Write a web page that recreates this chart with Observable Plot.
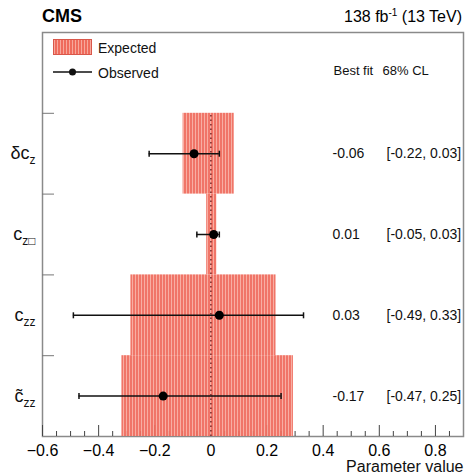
<!DOCTYPE html>
<html>
<head>
<meta charset="utf-8">
<script src="https://cdn.jsdelivr.net/npm/d3@7"></script>
<script src="https://cdn.jsdelivr.net/npm/@observablehq/plot@0.6"></script>
<style>
  html, body { margin: 0; padding: 0; background: #fff; }
  #wrap { position: relative; width: 465px; height: 475px; font-family: "Liberation Sans", Arial, Helvetica, sans-serif; }
  .hdr { position: absolute; white-space: nowrap; line-height: 1; color: #000; }
  .leg { position: absolute; white-space: nowrap; line-height: 1; font-size: 14px; color: #111; }
</style>
</head>
<body>
<div id="wrap">
  <div class="hdr" style="left:42px; top:7px; font-size:18px; font-weight:bold;">CMS</div>
  <div class="hdr" style="right:3px; top:8px; font-size:16px;">138 fb<sup style="font-size:10px; vertical-align: 6px;">-1</sup> (13 TeV)</div>
  <div class="leg" style="left:53px; top:39px; width:39px; height:16px; box-sizing:border-box; border:1px solid #d9574a; background: repeating-linear-gradient(90deg, #f7a89c 0 1px, #ef6b5c 1px 3px);"></div>
  <div class="leg" style="left:98px; top:41px;">Expected</div>
  <svg class="leg" style="left:53px; top:66px;" width="40" height="12"><line x1="0" y1="6" x2="39" y2="6" stroke="#111" stroke-width="1.5"/><circle cx="19.5" cy="6" r="3.5" fill="#111"/></svg>
  <div class="leg" style="left:98px; top:66px;">Observed</div>
</div>
<script>
// ---- data ----
const rows      = ["δc_z", "c_z□", "c_zz", "c̃_zz"];
const labelMain = ["δc", "c", "c", "c̃"];
const labelSub  = ["z", "z□", "zz", "zz"];
const bestFit   = [-0.06, 0.01, 0.03, -0.17];
const ciLow     = [-0.22, -0.05, -0.49, -0.47];
const ciHigh    = [0.03, 0.03, 0.33, 0.25];
const expLow    = [-0.099, -0.015, -0.285, -0.317];
const expHigh   = [0.083, 0.021, 0.232, 0.294];
const xTicks    = [-0.6, -0.4, -0.2, 0, 0.2, 0.4, 0.6, 0.8];
const columnHeads = ["Best fit", "68% CL"];
const xLabel    = "Parameter value";

const fmt2 = d3.formatLocale({decimal: ".", thousands: ",", grouping: [3], currency: ["", ""], minus: "-"}).format(".2f");
const n = rows.length;
const table = rows.map((r, i) => ({
  row: r,
  top: n - i,
  bottom: n - i - 1,
  center: n - i - 0.5,
  best: bestFit[i],
  lo: ciLow[i],
  hi: ciHigh[i],
  eLo: expLow[i],
  eHi: expHigh[i],
  bestText: fmt2(bestFit[i]),
  ciText: `[${fmt2(ciLow[i])}, ${fmt2(ciHigh[i])}]`
}));
const headerRow = n + 0.5;
const minorTicks = d3.range(-11, 18).map(k => k * 0.05).filter(v => !xTicks.some(t => Math.abs(t - v) < 1e-9));

const capSymbol = {
  draw(context, size) {
    const h = Math.sqrt(size / Math.PI);
    context.moveTo(0, -h);
    context.lineTo(0, h);
  }
};
const tickFmt = d => d === 0 ? "0" : d3.format(".1f")(d);

const chart = Plot.plot({
  width: 465,
  height: 475,
  marginTop: 32,
  marginLeft: 42,
  marginRight: 2,
  marginBottom: 39,
  style: {fontFamily: '"Liberation Sans", Arial, Helvetica, sans-serif', background: "transparent", color: "#000"},
  x: {domain: [-0.6, 0.9], label: null},
  y: {domain: [0, n + 1], label: null},
  marks: [
    Plot.frame({stroke: "#8a8a8a", strokeWidth: 1.5}),
    Plot.axisX(minorTicks, {tickSize: 5, dy: -5, tickFormat: () => "", stroke: "#444", label: null}),
    Plot.axisX(xTicks, {tickSize: 11, dy: -11, tickFormat: () => "", stroke: "#444", label: null}),
    Plot.axisX(xTicks, {tickSize: 0, tickPadding: 8, fontSize: 16, tickFormat: tickFmt, label: null}),
    Plot.axisY(d3.range(1, n + 1), {tickSize: 12, dx: 12, tickFormat: () => "", stroke: "#777", label: null}),
    Plot.rect(table, {x1: "eLo", x2: "eHi", y1: "bottom", y2: "top", fill: "url(#hatch)", fillOpacity: 0.93}),
    Plot.ruleX([0], {y1: 0, y2: n, stroke: "#7a2a2a", strokeWidth: 1.5, strokeDasharray: "1.5,3"}),
    Plot.ruleY(table, {y: "center", x1: "lo", x2: "hi", stroke: "#111", strokeWidth: 1.5}),
    Plot.dot(table, {x: "lo", y: "center", r: 3, symbol: capSymbol, stroke: "#111", strokeWidth: 1.5}),
    Plot.dot(table, {x: "hi", y: "center", r: 3, symbol: capSymbol, stroke: "#111", strokeWidth: 1.5}),
    Plot.dot(table, {x: "best", y: "center", r: 4.5, fill: "#000", stroke: null}),
    Plot.text(table, {y: "center", text: "bestText", frameAnchor: "right", dx: -131, textAnchor: "start", fontSize: 14, fill: "#111"}),
    Plot.text(table, {y: "center", text: "ciText", frameAnchor: "right", dx: -77, textAnchor: "start", fontSize: 14, fill: "#111"}),
    Plot.text([columnHeads[0]], {y: headerRow, text: d => d, frameAnchor: "right", dx: -130, dy: -2, textAnchor: "start", fontSize: 13, fill: "#111"}),
    Plot.text([columnHeads[1]], {y: headerRow, text: d => d, frameAnchor: "right", dx: -81, dy: -2, textAnchor: "start", fontSize: 13, fill: "#111"}),
    Plot.text(table, {y: "center", text: "row", frameAnchor: "left", dx: -7, textAnchor: "end", fontSize: 18, fill: "#111"}),
    Plot.text([xLabel], {text: d => d, frameAnchor: "bottom-right", lineAnchor: "middle", dy: 30, textAnchor: "end", fontSize: 16, fill: "#111"})
  ]
});

// pattern fill for the expected bars
const ns = "http://www.w3.org/2000/svg";
const defs = document.createElementNS(ns, "defs");
const pat = document.createElementNS(ns, "pattern");
pat.setAttribute("id", "hatch");
pat.setAttribute("width", "3");
pat.setAttribute("height", "3");
pat.setAttribute("patternUnits", "userSpaceOnUse");
const r1 = document.createElementNS(ns, "rect");
r1.setAttribute("width", "3"); r1.setAttribute("height", "3"); r1.setAttribute("fill", "#ef6b5c");
const r2 = document.createElementNS(ns, "rect");
r2.setAttribute("width", "1"); r2.setAttribute("height", "3"); r2.setAttribute("fill", "#f7a89c");
pat.appendChild(r1); pat.appendChild(r2); defs.appendChild(pat);
chart.insertBefore(defs, chart.firstChild);

// subscripts on row labels
chart.querySelectorAll("text").forEach(t => {
  const i = rows.indexOf(t.textContent);
  if (i < 0) return;
  t.textContent = "";
  const a = document.createElementNS(ns, "tspan");
  a.textContent = labelMain[i];
  const b = document.createElementNS(ns, "tspan");
  b.textContent = labelSub[i];
  b.setAttribute("font-size", "12");
  b.setAttribute("dy", "5");
  t.appendChild(a); t.appendChild(b);
});

chart.style.position = "absolute";
chart.style.left = "0";
chart.style.top = "0";
document.getElementById("wrap").prepend(chart);
</script>
</body>
</html>
